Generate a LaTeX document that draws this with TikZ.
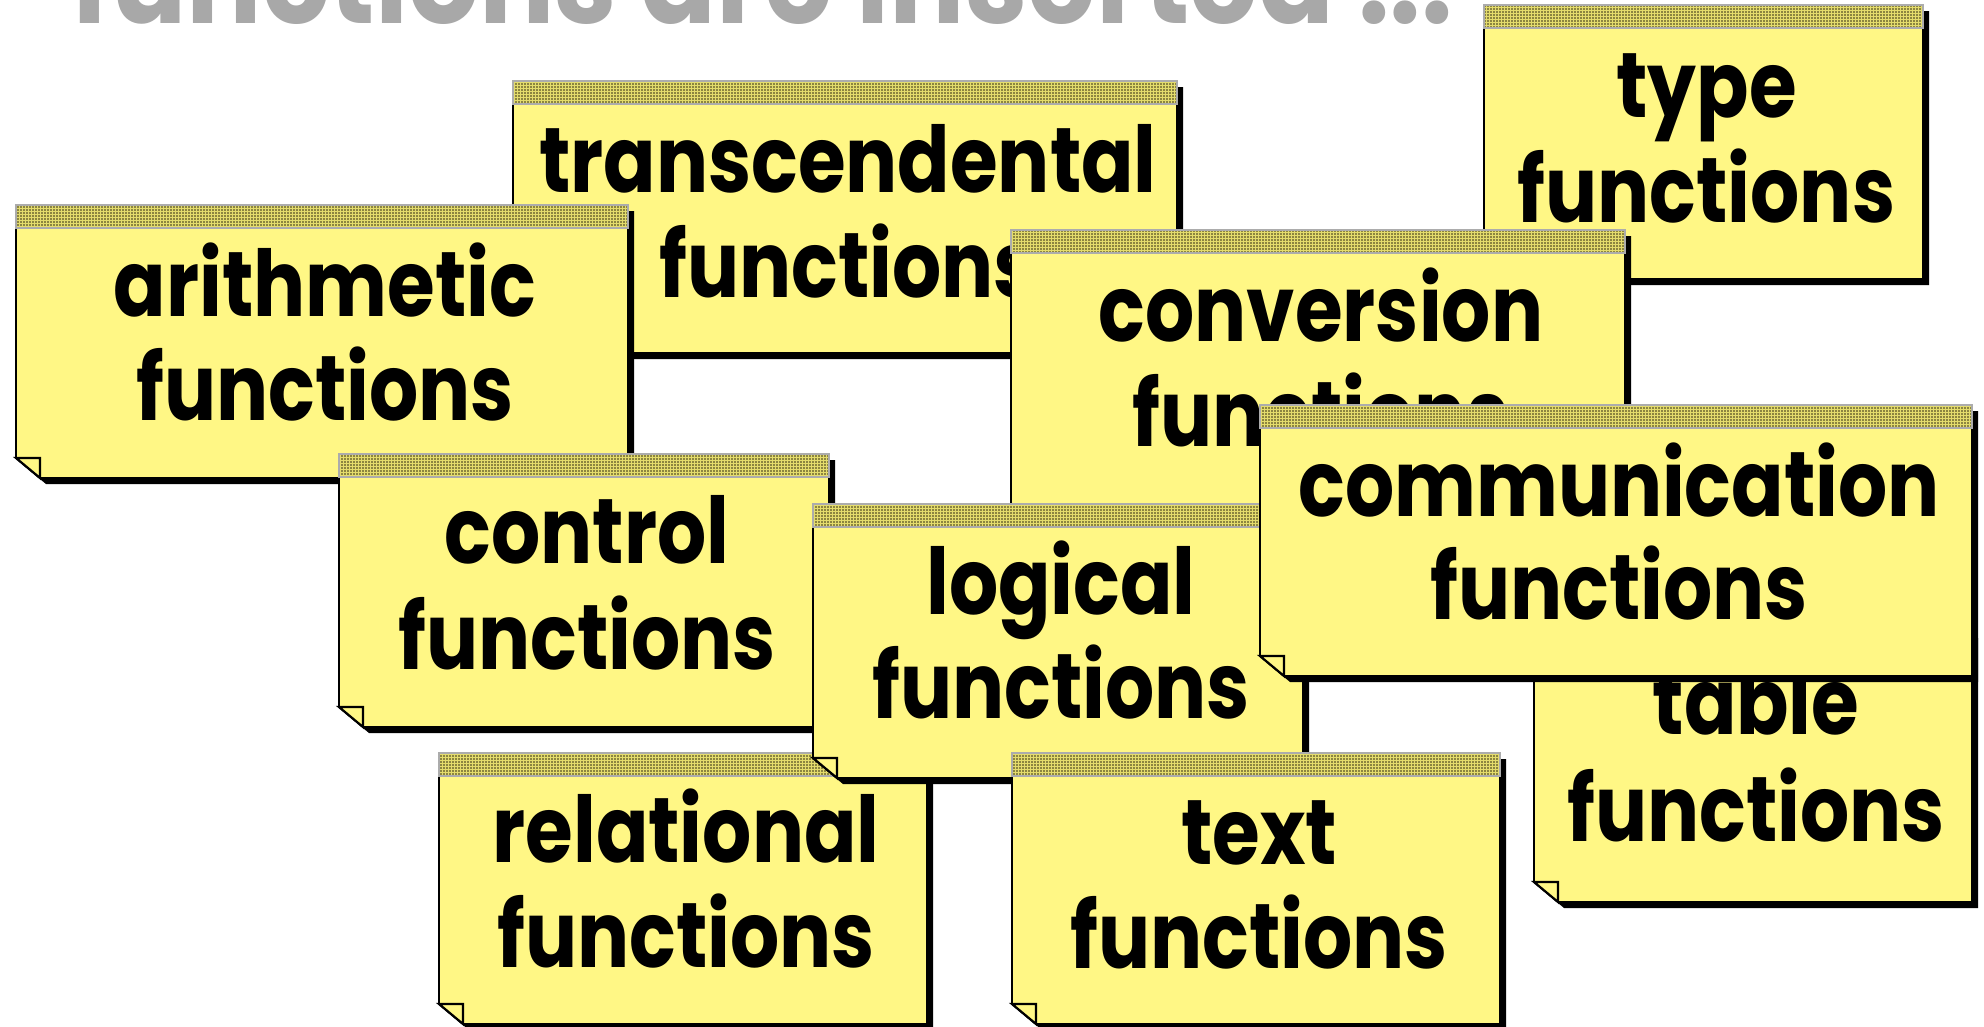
\documentclass[tikz,border=0pt]{standalone}
\usepackage{fontspec}
\newfontfamily\notefont{Poppins}[FakeStretch=0.84]
\newfontfamily\headfont{Poppins}[FakeStretch=0.88]
\usetikzlibrary{patterns.meta}
\definecolor{notefill}{RGB}{255,247,133}
\definecolor{tapefill}{RGB}{228,220,108}
\definecolor{tapedots}{RGB}{50,45,20}
\definecolor{tapeedge}{RGB}{172,172,172}
\definecolor{titlegray}{RGB}{168,168,168}

\tikzset{
  noteshadow/.style={fill=black},
  notebody/.style={fill=notefill, draw=black, line width=1.8pt, line join=miter},
  noteflap/.style={fill=notefill, draw=black, line width=2.2pt, line join=miter},
  notetape/.style={preaction={fill=tapefill},
    pattern={Dots[distance=3pt,radius=0.85pt]}, pattern color=tapedots,
    draw=tapeedge, line width=2.5pt},
  notetext/.style={font=\notefont\bfseries\fontsize{92}{92}\selectfont,
    inner sep=0pt, anchor=base, text=black},
  titletext/.style={font=\headfont\bfseries\fontsize{127}{127}\selectfont,
    inner sep=0pt, anchor=base, text=titlegray},
}

% sticky note: name, left, top, right, bottom, first line, first baseline, second baseline
\newcommand\stickynote[8]{%
  \fill[noteshadow] ({#2+6},{#3+6}) -- ({#4+6},{#3+6}) -- ({#4+6},{#5+6})
    -- ({#2+30},{#5+6}) -- ({#2+6},{#5-14}) -- cycle;
  \path[notebody] (#2,#3) -- (#4,#3) -- (#4,#5) -- ({#2+24},#5)
    -- (#2,{#5-20}) -- cycle;
  \path[noteflap] (#2,{#5-20}) -- ({#2+24},{#5-20}) -- ({#2+24},#5) -- cycle;
  \path[notetape] (#2,#3) rectangle (#4,{#3+23});
  \node[notetext] (#1-a) at ({(#2+#4)/2+3},#7) {#6};
  \node[notetext] (#1-b) at ({(#2+#4)/2+3},#8) {functions};
}

\begin{document}
\begin{tikzpicture}[x=1pt,y=-1pt]
  \useasboundingbox (0,0) rectangle (1984,1026);
  \clip (0,0) rectangle (1984,1026);
  \fill[white] (0,0) rectangle (1984,1026);

  \node[titletext] (title) at (762,23) {functions are inserted ...};

  \stickynote{transcendental}{513}{81}{1177}{353}{transcendental}{192}{297}
  \stickynote{arithmetic}{16}{205}{628}{478}{arithmetic}{316}{420}
  \stickynote{type}{1484}{5}{1923}{279}{type}{117}{222}
  \stickynote{conversion}{1011}{230}{1625}{560}{conversion}{341}{446}
  \stickynote{control}{339}{454}{829}{727}{control}{563}{669}
  \stickynote{table}{1534}{632}{1972}{902}{table}{734}{841}
  \stickynote{relational}{439}{753}{927}{1024}{relational}{862}{967}
  \stickynote{logical}{813}{504}{1303}{778}{logical}{614}{718}
  \stickynote{communication}{1260}{405}{1972}{676}{communication}{516}{619}
  \stickynote{text}{1012}{753}{1500}{1024}{text}{864}{968}
\end{tikzpicture}
\end{document}
